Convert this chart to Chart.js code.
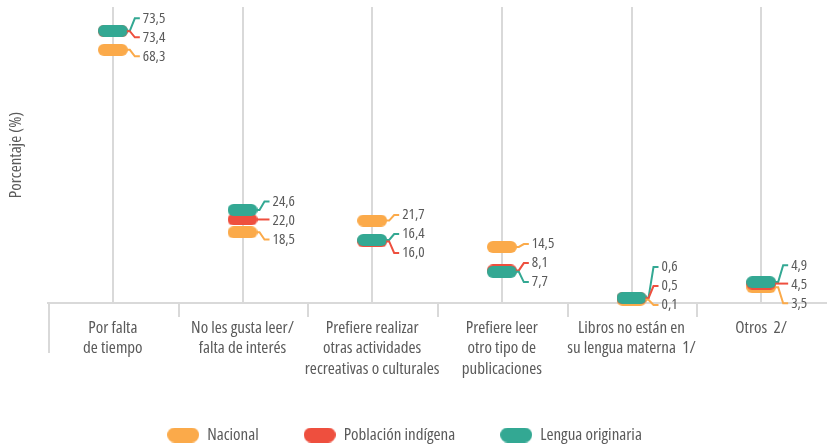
<!DOCTYPE html>
<html><head><meta charset="utf-8">
<script src="https://cdn.jsdelivr.net/npm/chart.js@4"></script>
<style>html,body{margin:0;padding:0;background:#fff}#wrap{width:833px;height:447px;position:relative}</style>
</head><body><div id="wrap"><canvas id="c"></canvas></div>
<script>
const categories = [
  ["Por falta", "de tiempo"],
  ["No les gusta leer/", "falta de interés"],
  ["Prefiere realizar", "otras actividades", "recreativas o culturales"],
  ["Prefiere leer", "otro tipo de", "publicaciones"],
  ["Libros no están en", "su lengua materna  1/"],
  "Otros  2/"
];
const seriesNames = ["Nacional", "Población indígena", "Lengua originaria"];
const nacional   = [68.3, 18.5, 21.7, 14.5, 0.1, 3.5];
const indigena   = [73.4, 22.0, 16.0, 8.1, 0.5, 4.5];
const originaria = [73.5, 24.6, 16.4, 7.7, 0.6, 4.9];

const colors = ["#FBAA4A", "#EE4F3E", "#33A893"];
const TEXT = "#5a5a5a";
const GRID = "#d9d9d9";
const FAMILY = "'Open Sans','Roboto Condensed',sans-serif";
const STRETCH = "condensed";

function pill(w, h, color) {
  const c = document.createElement('canvas');
  c.width = w; c.height = h;
  const x = c.getContext('2d');
  const r = h / 2;
  x.fillStyle = color;
  x.beginPath();
  x.moveTo(r, 0); x.lineTo(w - r, 0);
  x.arc(w - r, r, r, -Math.PI / 2, Math.PI / 2);
  x.lineTo(r, h);
  x.arc(r, r, r, Math.PI / 2, Math.PI * 1.5);
  x.closePath(); x.fill();
  return c;
}

const seriesValues = [nacional, indigena, originaria];
const datasets = seriesValues.map((vals, d) => ({
  label: seriesNames[d],
  data: vals,
  showLine: false,
  pointStyle: pill(30, 12, colors[d]),
  pointRadius: 6,
  pointHoverRadius: 6,
  backgroundColor: colors[d],
  borderColor: colors[d],
  order: 2 - d,
  clip: false
}));

const fmt = v => v.toFixed(1).replace('.', ',');

const labelPlugin = {
  id: 'pillLabels',
  afterDatasetsDraw(chart) {
    const ctx = chart.ctx;
    const area = chart.chartArea;
    const GAP = 19;
    ctx.save();
    ctx.font = STRETCH + " 15px " + FAMILY;
    ctx.textBaseline = 'middle';
    ctx.textAlign = 'left';
    categories.forEach((c, i) => {
      const pts = seriesValues.map((vals, d) => {
        const el = chart.getDatasetMeta(d).data[i];
        return { x: el.x, y: el.y, v: vals[i], color: colors[d] };
      });
      pts.sort((a, b) => (a.y - b.y) || (b.v - a.v));
      const ly = pts.map(p => p.y);
      for (let it = 0; it < 200; it++) {
        for (let k = 1; k < ly.length; k++) {
          const diff = ly[k] - ly[k - 1];
          if (diff < GAP) {
            const push = (GAP - diff) / 2;
            ly[k - 1] -= push; ly[k] += push;
          }
        }
      }
      const maxY = area.bottom + 2;
      const over = ly[ly.length - 1] - maxY;
      if (over > 0) for (let k = 0; k < ly.length; k++) ly[k] -= over;
      pts.forEach((p, k) => {
        const y = ly[k];
        ctx.strokeStyle = p.color;
        ctx.lineWidth = 2;
        ctx.beginPath();
        ctx.moveTo(p.x + 14, p.y);
        if (Math.abs(y - p.y) < 1.5) {
          ctx.lineTo(p.x + 27, p.y);
        } else {
          ctx.lineTo(p.x + 17, p.y);
          ctx.lineTo(p.x + 22, y);
          ctx.lineTo(p.x + 27, y);
        }
        ctx.stroke();
        ctx.fillStyle = TEXT;
        ctx.fillText(fmt(p.v), p.x + 30, y);
      });
    });
    ctx.restore();
  },
  afterDraw(chart) {
    const ctx = chart.ctx;
    const xs = chart.scales.x;
    const n = categories.length;
    const w = (xs.right - xs.left) / n;
    ctx.save();
    ctx.strokeStyle = GRID;
    ctx.lineWidth = 2;
    for (let k = 0; k < n; k++) {
      const xx = Math.round(xs.left + k * w) + 1;
      ctx.beginPath();
      ctx.moveTo(xx, xs.top);
      ctx.lineTo(xx, xs.top + (k === 0 ? 50 : 14));
      ctx.stroke();
    }
    // legend
    ctx.font = STRETCH + " 17px " + FAMILY;
    ctx.textBaseline = 'middle';
    const pw = 32, ph = 15, tg = 8, ig = 45;
    const widths = seriesNames.map(s => pw + tg + ctx.measureText(s).width);
    const total = widths.reduce((a, b) => a + b, 0) + ig * (widths.length - 1);
    let x = (chart.width - total) / 2 - 12;
    const cy = 435;
    seriesNames.forEach((s, d) => {
      ctx.drawImage(pill(pw, ph, colors[d]), x, cy - ph / 2);
      ctx.fillStyle = TEXT;
      ctx.fillText(s, x + pw + tg, cy);
      x += widths[d] + ig;
    });
    ctx.restore();
  }
};

new Chart(document.getElementById('c'), {
  type: 'line',
  data: { labels: categories, datasets },
  options: {
    responsive: true,
    maintainAspectRatio: false,
    animation: false,
    layout: { padding: { top: 7, left: 0, right: 0, bottom: 0 } },
    plugins: { legend: { display: false }, tooltip: { enabled: false } },
    scales: {
      x: {
        offset: true,
        grid: { color: GRID, lineWidth: 2, offset: false, drawTicks: false },
        border: { display: true, color: GRID, width: 2 },
        ticks: { font: { family: FAMILY, weight: STRETCH, size: 17, lineHeight: 1.2 }, color: TEXT, padding: 15, maxRotation: 0, autoSkip: false },
        afterFit(s) { s.height = 144; }
      },
      y: {
        min: -0.8, max: 80,
        grid: { display: false },
        border: { display: false },
        ticks: { display: false },
        title: { display: true, text: 'Porcentaje (%)', font: { family: FAMILY, weight: STRETCH, size: 17 }, color: TEXT, padding: { top: 6, bottom: 0 } },
        afterFit(s) { s.width = 48; }
      }
    }
  },
  plugins: [labelPlugin]
});
</script>
</body></html>
